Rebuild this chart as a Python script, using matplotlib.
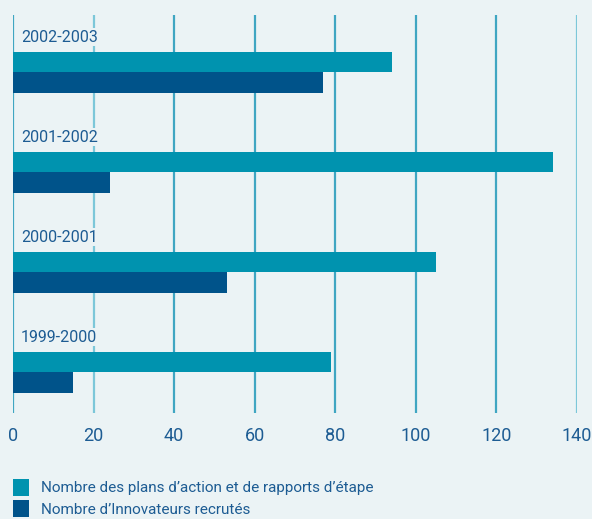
import matplotlib
matplotlib.use("Agg")
import matplotlib.pyplot as plt

# Data
periods = ["1999-2000", "2000-2001", "2001-2002", "2002-2003"]
plans_rapports = [79, 105, 134, 94]
innovateurs = [15, 53, 24, 77]
x_ticks = [0, 20, 40, 60, 80, 100, 120, 140]
series_labels = ["Nombre des plans d\u2019action et de rapports d\u2019\u00e9tape",
                 "Nombre d\u2019Innovateurs recrut\u00e9s"]

BG = "#EBF3F5"
TEAL = "#0093AF"
NAVY = "#00538A"
GRID = "#3FA6C2"
TEXT = "#1D5C93"

plt.rcParams["font.family"] = ["Roboto", "DejaVu Sans"]

fig = plt.figure(figsize=(5.92, 5.19), dpi=100, facecolor=BG)
ax = fig.add_axes([13 / 592, 106 / 519, 564 / 592, 398 / 519])
ax.set_facecolor(BG)

ypos = list(range(len(periods)))
h = 0.205
ax.barh([y + h / 2 for y in ypos], plans_rapports, height=h, color=TEAL,
        label=series_labels[0], zorder=3)
ax.barh([y - h / 2 for y in ypos], innovateurs, height=h, color=NAVY,
        label=series_labels[1], zorder=3)

for y, p in zip(ypos, periods):
    ax.text(2.0, y + 0.35, p, color=TEXT, fontsize=11.5, va="center", ha="left",
            zorder=4, bbox=dict(boxstyle="square,pad=0.1", fc=BG, ec="none"))

ax.set_xlim(0, 140)
ax.set_ylim(-0.41, 3.57)
ax.set_xticks(x_ticks)
ax.set_yticks([])
for s in ax.spines.values():
    s.set_visible(False)
for xv in x_ticks:
    col = "#7CC7D9" if xv in (20, 140) else GRID
    ax.axvline(xv, color=col, lw=1.6, zorder=1)
ax.tick_params(axis="x", length=0, pad=10, labelsize=13, labelcolor=TEXT)

handles, labels = ax.get_legend_handles_labels()
leg = fig.legend(handles, labels, loc="upper left", bbox_to_anchor=(0.022, 0.077),
                 frameon=False, fontsize=11, handlelength=1.05, handleheight=1.3,
                 handletextpad=0.75, labelspacing=0.3, borderaxespad=0, borderpad=0)
for t in leg.get_texts():
    t.set_color(TEXT)

fig.savefig("out.png", dpi=100, facecolor=BG)
